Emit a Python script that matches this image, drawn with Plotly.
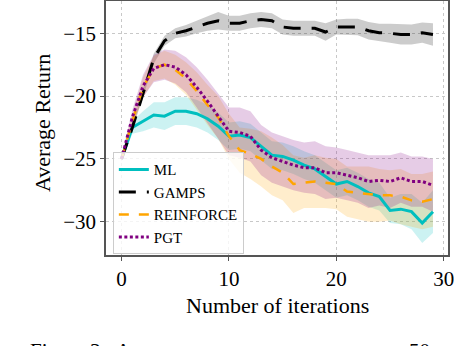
import plotly.graph_objects as go

FONT = "Liberation Serif"
GRID = "#c8c8c8"
SPINE = "#555555"

iterations = list(range(30))

ml_mean = [-25.0, -22.5, -22.0, -21.5, -21.6, -21.2, -21.2, -21.4, -21.8, -22.4,
           -23.2, -23.1, -23.3, -24.0, -24.7, -24.8, -25.1, -25.5, -25.8, -26.4,
           -27.0, -26.8, -27.2, -27.7, -28.0, -29.1, -29.0, -29.2, -30.1, -29.2]
ml_std = [0.2, 0.5, 0.8, 1.0, 1.1, 1.1, 1.1, 1.1, 1.1, 1.1,
          1.1, 1.1, 1.1, 1.1, 1.1, 1.1, 1.1, 1.1, 1.1, 1.1,
          1.1, 1.1, 1.1, 1.1, 1.1, 1.0, 1.2, 1.4, 1.6, 1.7]

gamps_mean = [-25.0, -22.5, -19.8, -17.0, -15.6, -15.0, -14.8, -14.5, -14.2, -14.0,
              -14.2, -14.2, -14.0, -13.9, -14.0, -14.5, -14.6, -14.6, -14.6, -14.9,
              -14.5, -14.5, -14.5, -14.8, -14.95, -15.0, -15.1, -15.1, -14.95, -15.1]
gamps_std = [0.1, 0.2, 0.3, 0.4, 0.4, 0.4, 0.45, 0.5, 0.6, 0.7,
             0.6, 0.6, 0.6, 0.6, 0.6, 0.6, 0.6, 0.6, 0.6, 0.7,
             0.6, 0.65, 0.65, 0.7, 0.7, 0.75, 0.8, 0.8, 0.8, 0.9]

reinforce_mean = [-25.0, -22.0, -19.3, -17.8, -17.5, -17.9, -18.6, -19.6, -20.7, -21.7,
                  -23.2, -24.3, -24.6, -25.0, -25.6, -26.1, -27.0, -26.9, -26.8, -26.9,
                  -27.0, -27.6, -27.7, -27.8, -27.9, -27.9, -28.0, -28.3, -28.4, -28.2]
reinforce_std = [0.2, 0.5, 0.8, 1.0, 1.1, 1.2, 1.3, 1.5, 1.6, 1.7,
                 1.8, 1.8, 2.0, 2.2, 2.3, 2.2, 2.3, 2.0, 2.1, 2.0,
                 2.0, 2.0, 2.1, 2.2, 2.1, 2.0, 2.2, 2.1, 2.2, 2.2]

pgt_mean = [-25.0, -21.7, -19.2, -17.8, -17.5, -17.7, -18.3, -19.3, -20.4, -21.6,
            -22.8, -22.9, -23.2, -24.3, -24.9, -25.2, -25.5, -25.7, -25.7, -26.1,
            -26.1, -26.3, -26.5, -26.8, -26.7, -26.8, -26.5, -26.8, -26.8, -27.1]
pgt_std = [0.2, 0.6, 0.9, 1.1, 1.2, 1.3, 1.4, 1.6, 1.7, 1.8,
           1.9, 2.0, 2.0, 2.0, 2.0, 2.0, 2.0, 2.0, 2.1, 2.1,
           2.0, 2.0, 2.0, 2.1, 2.0, 2.1, 2.0, 2.0, 2.0, 2.1]

series = [
    ("ML", ml_mean, ml_std, "#00bfbf", "rgba(0,191,191,0.2)", "solid", 3),
    ("GAMPS", gamps_mean, gamps_std, "black", "rgba(0,0,0,0.2)", "17px,11px", 3),
    ("REINFORCE", reinforce_mean, reinforce_std, "#ffa500", "rgba(255,165,0,0.2)", "10px,10px", 2.5),
    ("PGT", pgt_mean, pgt_std, "#800080", "rgba(128,0,128,0.2)", "3px,2.5px", 3),
]

fig = go.Figure()

# shaded bands (mean +/- std)
for name, mean, std, color, fill, dash, width in series:
    upper = [m + s for m, s in zip(mean, std)]
    lower = [m - s for m, s in zip(mean, std)]
    fig.add_trace(go.Scatter(
        x=iterations + iterations[::-1],
        y=upper + lower[::-1],
        fill="toself", fillcolor=fill, line=dict(width=0),
        hoverinfo="skip", showlegend=False,
    ))

# mean lines
for name, mean, std, color, fill, dash, width in series:
    fig.add_trace(go.Scatter(
        x=iterations, y=mean, mode="lines", name=name,
        line=dict(color=color, width=width, dash=dash),
    ))

txt = dict(family=FONT, size=21, color="black")
title_txt = dict(family=FONT, size=22, color="black")

# axis titles as annotations for exact placement
fig.add_annotation(text="Average Return", xref="paper", yref="paper",
                   x=-0.184, y=0.52, textangle=-90, showarrow=False,
                   xanchor="center", yanchor="middle", font=title_txt)
fig.add_annotation(text="Number of iterations", xref="paper", yref="paper",
                   x=0.5, y=-0.197, showarrow=False,
                   xanchor="center", yanchor="middle", font=title_txt)

# caption of the page, cut by the bottom edge as in the source image
fig.add_annotation(text="Figure 3:  Average return versus", xref="paper", yref="paper",
                   x=-0.228, y=-0.376, xanchor="left", yanchor="middle",
                   showarrow=False, font=txt)
fig.add_annotation(text="50", xref="paper", yref="paper",
                   x=0.88, y=-0.376, xanchor="left", yanchor="middle",
                   showarrow=False, font=txt)

fig.update_layout(
    template="none",
    width=454, height=346,
    margin=dict(l=106, r=6, t=1, b=91),
    paper_bgcolor="white", plot_bgcolor="white",
    font=dict(family=FONT, size=21, color="black"),
    showlegend=True,
    legend=dict(x=0.02, y=0.405, xanchor="left", yanchor="top",
                bgcolor="rgba(255,255,255,0.8)", bordercolor="#cccccc",
                borderwidth=1, font=dict(family=FONT, size=15)),
)
fig.update_xaxes(
    automargin=False,
    range=[-1.45, 30.4], tickvals=[0, 10, 20, 30], ticklabeloverflow="allow",
    showgrid=True, gridcolor=GRID, griddash="dot", gridwidth=1,
    showline=True, linecolor=SPINE, linewidth=1.5, mirror=True,
    ticks="outside", ticklen=4, tickcolor=SPINE, zeroline=False,
    tickfont=dict(family=FONT, size=21),
)
fig.update_yaxes(
    automargin=False,
    range=[-32.65, -12.43], tickvals=[-30, -25, -20, -15],
    showgrid=True, gridcolor=GRID, griddash="dot", gridwidth=1,
    showline=True, linecolor=SPINE, linewidth=1.5, mirror=True,
    ticks="outside", ticklen=4, tickcolor=SPINE, zeroline=False,
    tickfont=dict(family=FONT, size=21),
)

fig.write_html("out.html", config={"displayModeBar": False},
               post_script="document.body.style.margin='0';")
